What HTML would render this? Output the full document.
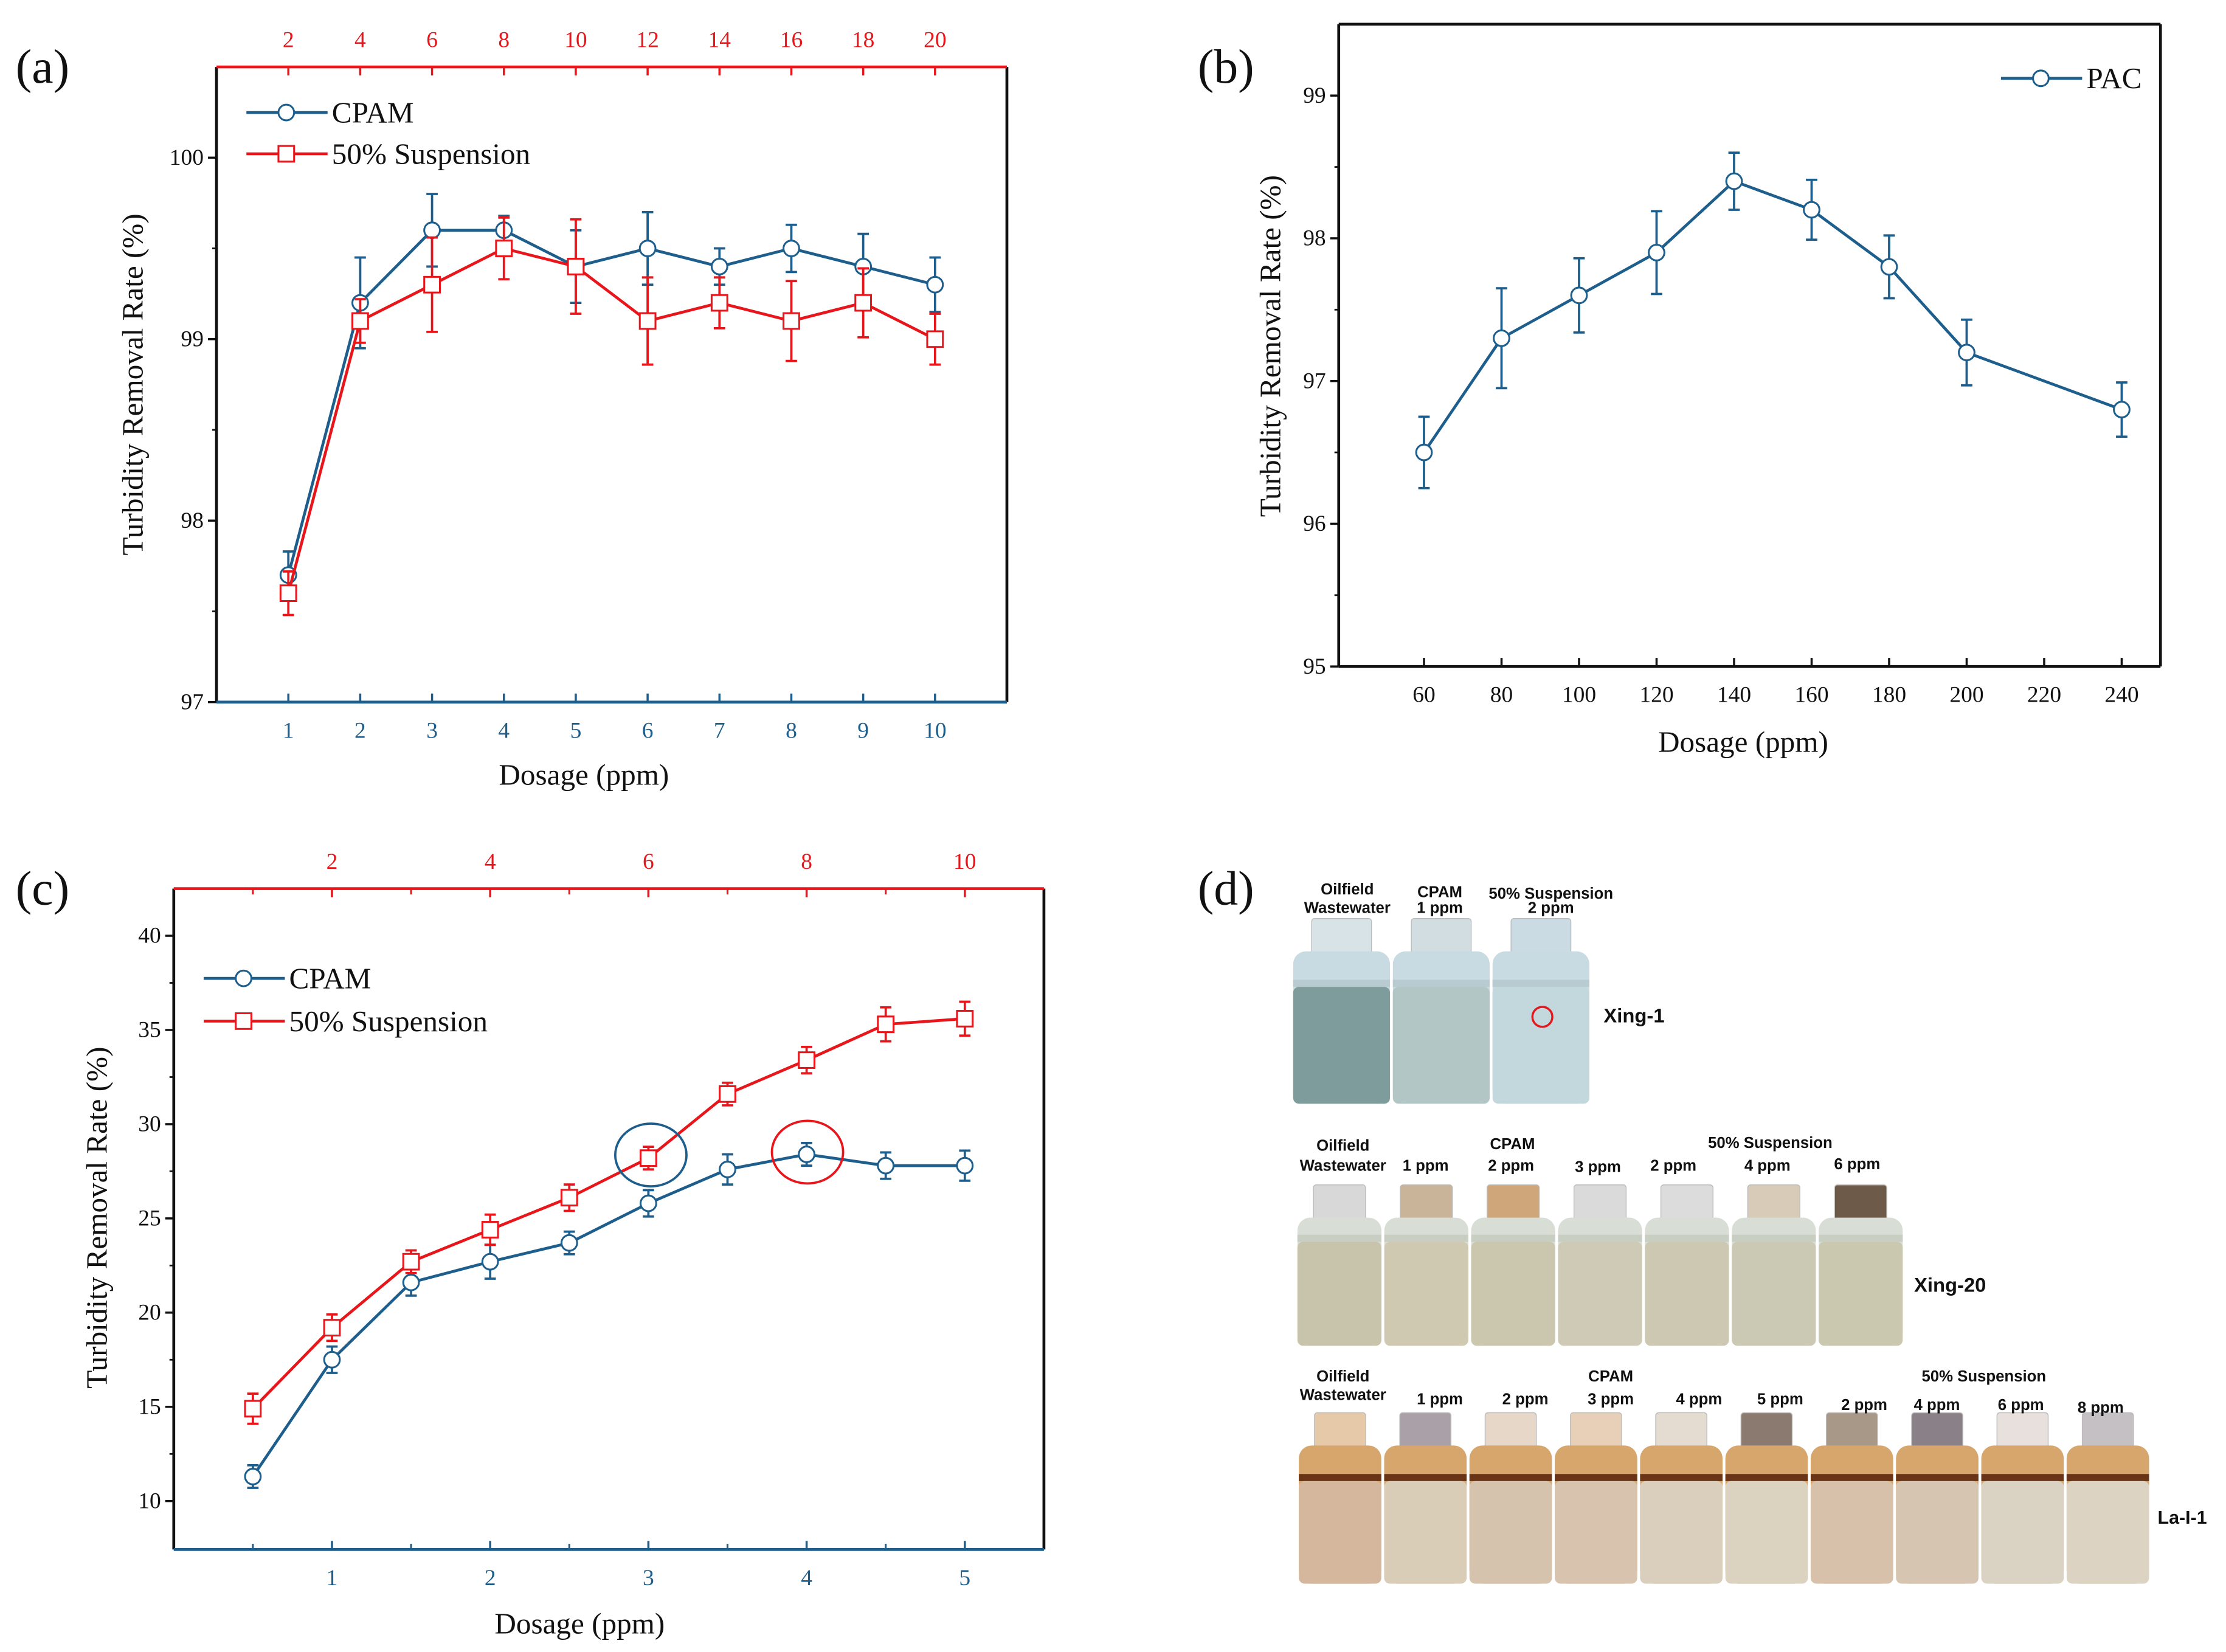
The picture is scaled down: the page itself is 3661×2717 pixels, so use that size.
<!DOCTYPE html>
<html><head><meta charset="utf-8"><style>
html,body{margin:0;padding:0;background:#fff}
svg{display:block}
text{font-family:"Liberation Serif",serif}
.ph{font-family:"Liberation Sans",sans-serif;font-weight:bold}
</style></head><body>
<svg id="fig" width="3661" height="2717" viewBox="0 0 1563 1160" xmlns="http://www.w3.org/2000/svg">
<g id="pa"></g>
<g id="pb"></g>
<g id="pc"></g>
<g id="pd"></g>
</svg>
<script>
// ---- Panel (a) data ----
const aX = [1,2,3,4,5,6,7,8,9,10];
const aCpam = [97.7,99.2,99.6,99.6,99.4,99.5,99.4,99.5,99.4,99.3];
const aCpamErr = [0.13,0.25,0.2,0.08,0.2,0.2,0.1,0.13,0.18,0.15];
const aSusp = [97.6,99.1,99.3,99.5,99.4,99.1,99.2,99.1,99.2,99.0];
const aSuspErr = [0.12,0.12,0.26,0.17,0.26,0.24,0.14,0.22,0.19,0.14];
const aYTicks = [97,98,99,100];
const aXTicks = [1,2,3,4,5,6,7,8,9,10];
const aTopTicks = [2,4,6,8,10,12,14,16,18,20];
// ---- Panel (b) data ----
const bX = [60,80,100,120,140,160,180,200,240];
const bPac = [96.5,97.3,97.6,97.9,98.4,98.2,97.8,97.2,96.8];
const bPacErr = [0.25,0.35,0.26,0.29,0.2,0.21,0.22,0.23,0.19];
const bYTicks = [95,96,97,98,99];
const bXTicks = [60,80,100,120,140,160,180,200,220,240];
// ---- Panel (c) data ----
const cX = [0.5,1,1.5,2,2.5,3,3.5,4,4.5,5];
const cCpam = [11.3,17.5,21.6,22.7,23.7,25.8,27.6,28.4,27.8,27.8];
const cCpamErr = [0.6,0.7,0.7,0.9,0.6,0.7,0.8,0.6,0.7,0.8];
const cSusp = [14.9,19.2,22.7,24.4,26.1,28.2,31.6,33.4,35.3,35.6];
const cSuspErr = [0.8,0.7,0.6,0.8,0.7,0.6,0.6,0.7,0.9,0.9];
const cYTicks = [10,15,20,25,30,35,40];
const cXTicks = [1,2,3,4,5];
const cTopTicks = [2,4,6,8,10];

const NS="http://www.w3.org/2000/svg";
const BLUE="#1d5e8c", RED="#e8161b";
function mk(parent,tag,attrs,txt){const e=document.createElementNS(NS,tag);for(const k in attrs)e.setAttribute(k,attrs[k]);if(txt!==undefined)e.textContent=txt;parent.appendChild(e);return e;}
function lin(d0,d1,p0,p1){return v=>p0+(v-d0)*(p1-p0)/(d1-d0);}

function series(g,xs,ys,es,sx,sy,color,shape,name){
  const sg=mk(g,'g',{});
  
  
  for(let i=0;i<xs.length;i++){
    const x=sx(xs[i]),y1=sy(ys[i]+es[i]),y2=sy(ys[i]-es[i]);
    const eb=mk(sg,'path',{d:`M${x},${y1}V${y2}M${x-4},${y1}H${x+4}M${x-4},${y2}H${x+4}`,stroke:color,'stroke-width':1.6,fill:'none'});
    
    
  }
  const pts=xs.map((v,i)=>sx(v)+','+sy(ys[i])).join(' ');
  const pl=mk(sg,'polyline',{points:pts,fill:'none',stroke:color,'stroke-width':2});
  
  
  for(let i=0;i<xs.length;i++){
    const x=sx(xs[i]),y=sy(ys[i]);
    let m;
    if(shape==='c') m=mk(sg,'circle',{cx:x,cy:y,r:5.5,fill:'#fff',stroke:color,'stroke-width':1.3});
    else m=mk(sg,'rect',{x:x-5.5,y:y-5.5,width:11,height:11,fill:'#fff',stroke:color,'stroke-width':1.3});
    
    
  }
}
function legendItem(g,x,y,color,shape,label){
  const lg=mk(g,'g',{});
  
  
  mk(lg,'line',{x1:x,y1:y,x2:x+57,y2:y,stroke:color,'stroke-width':2});
  if(shape==='c') mk(lg,'circle',{cx:x+28,cy:y,r:5.5,fill:'#fff',stroke:color,'stroke-width':1.3});
  else mk(lg,'rect',{x:x+22.5,y:y-5.5,width:11,height:11,fill:'#fff',stroke:color,'stroke-width':1.3});
  mk(lg,'text',{x:x+60,y:y+7,'font-size':21,fill:'#111'},label);
}

function panel(g,o){
  const sx=lin(o.x0,o.x1,o.L,o.R), sy=lin(o.y0,o.y1,o.B,o.T);
  mk(g,'line',{x1:o.L,y1:o.T,x2:o.L,y2:o.B,stroke:'#111','stroke-width':2});
  mk(g,'line',{x1:o.R,y1:o.T,x2:o.R,y2:o.B,stroke:'#111','stroke-width':2});
  const top=mk(g,'line',{x1:o.L,y1:o.T,x2:o.R,y2:o.T,stroke:o.topColor,'stroke-width':2});
  
  
  const bot=mk(g,'line',{x1:o.L,y1:o.B,x2:o.R,y2:o.B,stroke:o.botColor,'stroke-width':2});
  
  
  o.yTicks.forEach(v=>{
    const y=sy(v);
    mk(g,'line',{x1:o.L-6,y1:y,x2:o.L,y2:y,stroke:'#111','stroke-width':1.5});
    const t=mk(g,'text',{x:o.L-9,y:y+5,'font-size':16,'text-anchor':'end',fill:'#111'},String(v));
    
    
  });
  if(o.yMinor) o.yMinor.forEach(v=>{const y=sy(v);mk(g,'line',{x1:o.L-3,y1:y,x2:o.L,y2:y,stroke:'#111','stroke-width':1.2});});
  o.xTicks.forEach(v=>{
    const x=sx(v);
    mk(g,'line',{x1:x,y1:o.B-6,x2:x,y2:o.B,stroke:o.botColor,'stroke-width':1.5});
    const t=mk(g,'text',{x:x,y:o.B+25,'font-size':16,'text-anchor':'middle',fill:o.botText},String(v));
    
    
  });
  if(o.xMinor) o.xMinor.forEach(v=>{const x=sx(v);mk(g,'line',{x1:x,y1:o.B-4,x2:x,y2:o.B,stroke:o.botColor,'stroke-width':1.3});mk(g,'line',{x1:x,y1:o.T,x2:x,y2:o.T+4,stroke:o.topColor,'stroke-width':1.3});});
  if(o.topTicks){
    o.topTicks.forEach(v=>{
      const x=sx(v/2);
      mk(g,'line',{x1:x,y1:o.T,x2:x,y2:o.T+6,stroke:o.topColor,'stroke-width':1.5});
      const t=mk(g,'text',{x:x,y:o.T-14,'font-size':16,'text-anchor':'middle',fill:RED},String(v));
      
      
    });
  }
  const xt=mk(g,'text',{x:o.xtX,y:o.xtY,'font-size':21,'text-anchor':'middle',fill:'#111'},'Dosage (ppm)');
  
  
  const yt=mk(g,'text',{x:0,y:0,'font-size':21,'text-anchor':'middle',fill:'#111',transform:`translate(${o.ytX},${o.ytY}) rotate(-90)`},'Turbidity Removal Rate (%)');
  
  
  const pl=mk(g,'text',{x:o.plX,y:o.plY,'font-size':34,fill:'#111'},o.label);
  
  
  return {sx,sy};
}

const ga=document.getElementById('pa');
const A=panel(ga,{L:152,R:707,T:47,B:493,x0:0,x1:11,y0:97,y1:100.5,yTicks:aYTicks,yMinor:[97.5,98.5,99.5],xTicks:aXTicks,topTicks:aTopTicks,
  topColor:RED,botColor:BLUE,botText:BLUE,xtX:410,xtY:551,ytX:100,ytY:270,plX:11,plY:58,label:'(a)'});
series(ga,aX,aCpam,aCpamErr,A.sx,A.sy,BLUE,'c','cpam');
series(ga,aX,aSusp,aSuspErr,A.sx,A.sy,RED,'s','suspension');
legendItem(ga,173,79,BLUE,'c','CPAM');
legendItem(ga,173,108,RED,'s','50% Suspension');

const gb=document.getElementById('pb');
const Bp=panel(gb,{L:940,R:1517,T:17,B:468,x0:38,x1:250,y0:95,y1:99.5,yTicks:bYTicks,yMinor:[95.5,96.5,97.5,98.5],xTicks:bXTicks,topTicks:null,
  topColor:'#111',botColor:'#111',botText:'#111',xtX:1224,xtY:528,ytX:899,ytY:243,plX:841,plY:58,label:'(b)'});
series(gb,bX,bPac,bPacErr,Bp.sx,Bp.sy,BLUE,'c','pac');
legendItem(gb,1405,55,BLUE,'c','PAC');

const gc=document.getElementById('pc');
const C=panel(gc,{L:122,R:733,T:624,B:1088,x0:0,x1:5.5,y0:7.43,y1:42.5,yTicks:cYTicks,yMinor:[12.5,17.5,22.5,27.5,32.5,37.5],xTicks:cXTicks,topTicks:cTopTicks,xMinor:[0.5,1.5,2.5,3.5,4.5],
  topColor:RED,botColor:BLUE,botText:BLUE,xtX:407,xtY:1147,ytX:75,ytY:855,plX:11,plY:635,label:'(c)'});
series(gc,cX,cCpam,cCpamErr,C.sx,C.sy,BLUE,'c','cpam');
series(gc,cX,cSusp,cSuspErr,C.sx,C.sy,RED,'s','suspension');
legendItem(gc,143,687,BLUE,'c','CPAM');
legendItem(gc,143,717,RED,'s','50% Suspension');
const hc1=mk(gc,'ellipse',{cx:457,cy:811,rx:25,ry:22,fill:'none',stroke:BLUE,'stroke-width':1.6});


const hc2=mk(gc,'ellipse',{cx:567,cy:809,rx:25,ry:22,fill:'none',stroke:RED,'stroke-width':1.6});



const gd=document.getElementById('pd');
const pdl=mk(gd,'text',{x:841,y:635,'font-size':34,fill:'#111'},'(d)');


function bottleRow(x0,x1,yTop,yNeck,yLiq,yBot,cols,capCol,band,top,name){
  const n=cols.length,w=(x1-x0)/n;
  const rg=mk(gd,'g',{});
  
  
  for(let i=0;i<n;i++){
    const x=x0+i*w;
    mk(rg,'rect',{x:x+w*0.2,y:yTop,width:w*0.6,height:yNeck-yTop+4,fill:capCol[i%capCol.length],stroke:'#bbb',"stroke-width":0.6,rx:2});
    mk(rg,'rect',{x:x+1,y:yNeck,width:w-2,height:yBot-yNeck,fill:top,rx:9});
    mk(rg,'rect',{x:x+1,y:yLiq-5,width:w-2,height:5,fill:band});
    mk(rg,'rect',{x:x+1,y:yLiq,width:w-2,height:yBot-yLiq,fill:cols[i],rx:4});
  }
}
bottleRow(907,1117,645,668,693,775,['#7f9c9c','#b2c6c5','#c3d8dc'],['#d8e3e8','#d2dde2','#cbdbe3'],'#b8cbd0','#c9dbe2','photo-row-xing-1');
bottleRow(910,1337,832,855,872,945,['#c8c3ab','#cfc9b2','#cbc6ae','#cfcab5','#cdc8b2','#cbc8b3','#cbc8b0'],['#d8d8d8','#c9b49a','#cfa57a','#dadada','#dcdcdc','#d8cbb8','#6d5a48'],'#c9cec2','#d8ddd6','photo-row-xing-20');
bottleRow(911,1510,992,1015,1040,1112,['#d4b79d','#dacdb8','#d6c3ad','#d8c4ae','#dacfbd','#dcd2c0','#d7c1aa','#d6c5b0','#dad2c2','#dcd3c2'],['#e5c9a8','#a9a0a8','#e6d7c8','#e8d0b8','#e4dcd0','#8a7a70','#a89888','#8a8088','#e8e0dc','#c4c0c4'],'#6a3516','#d7a66c','photo-row-la-i-1');
function lab(x,y,t,s,a){const e=mk(gd,'text',{x:x,y:y,'font-size':s||11,'text-anchor':a||'middle',fill:'#111',class:'ph'},t);return e;}
lab(946,628,'Oilfield');lab(946,641,'Wastewater');lab(1011,630,'CPAM');lab(1011,641,'1 ppm');lab(1089,631,'50% Suspension');lab(1089,641,'2 ppm');
lab(1126,718,'Xing-1',14,'start');
const rc=mk(gd,'circle',{cx:1083,cy:714,r:7,fill:'none',stroke:RED,'stroke-width':1.5});


lab(943,808,'Oilfield');lab(943,822,'Wastewater');lab(1001,822,'1 ppm');lab(1062,807,'CPAM');lab(1061,822,'2 ppm');lab(1122,823,'3 ppm');lab(1175,822,'2 ppm');lab(1243,806,'50% Suspension');lab(1241,822,'4 ppm');lab(1304,821,'6 ppm');
lab(1344,907,'Xing-20',14,'start');
lab(943,970,'Oilfield');lab(943,983,'Wastewater');lab(1011,986,'1 ppm');lab(1071,986,'2 ppm');lab(1131,970,'CPAM');lab(1131,986,'3 ppm');lab(1193,986,'4 ppm');lab(1250,986,'5 ppm');lab(1309,990,'2 ppm');lab(1360,990,'4 ppm');lab(1393,970,'50% Suspension');lab(1419,990,'6 ppm');lab(1475,992,'8 ppm');
lab(1515,1070,'La-I-1',13,'start');
</script>
</body></html>
